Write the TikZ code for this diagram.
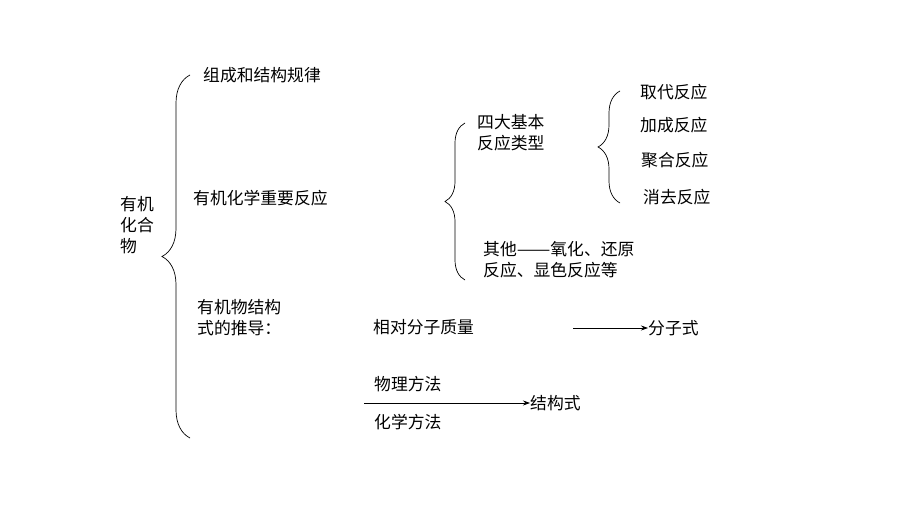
\documentclass[tikz,border=0pt]{standalone}
\usepackage{fontspec}
\usepackage{graphicx}
\newfontfamily\cjk{Noto Sans CJK SC}
\usetikzlibrary{arrows.meta,decorations.pathreplacing}

% two full-width dashes
\newcommand{\longdash}{\resizebox{2em}{\height}{——}}

\begin{document}
\begin{tikzpicture}[x=1pt,y=-1pt,
  every node/.style={font=\cjk\fontsize{16.8}{21}\selectfont, anchor=west, inner sep=0pt, align=left},
  brace/.style={decorate, decoration={brace, amplitude=#1}, line width=0.7pt},
  arrow/.style={-{Stealth[length=7pt,width=5pt]}, line width=0.7pt}]

  % Fix the page size
  \useasboundingbox (0,0) rectangle (920,518);

  % Root and the big brace
  \node (root) at (120,225) {有机\\化合\\物};
  \draw[brace=28] (190,438) -- (190,75);

  % Main branches
  \node (rule) at (203,75) {组成和结构规律};
  \node (react) at (193,198) {有机化学重要反应};
  \node (derive) at (197,318) {有机物结构\\式的推导：};

  % Reactions
  \draw[brace=20] (465,280) -- (465,123);
  \node (types) at (477,133) {四大基本\\反应类型};
  \node (other) at (483,260) {其他\longdash 氧化、还原\\反应、显色反应等};

  \draw[brace=22] (620,203) -- (620,91);
  \node (subst) at (640,92) {取代反应};
  \node (addit) at (640,125) {加成反应};
  \node (polym) at (641,160) {聚合反应};
  \node (elim) at (643,197) {消去反应};

  % Derivation of the formula
  \node (mass) at (373,327) {相对分子质量};
  \node (molf) at (648,328) {分子式};
  \coordinate (a1) at (573,328);
  \draw[arrow] (a1) -- (molf.west);

  \node (phys) at (374,384) {物理方法};
  \node (chem) at (374,422) {化学方法};
  \node (strf) at (530,403) {结构式};
  \coordinate (a2) at (364,403);
  \draw[arrow] (a2) -- (strf.west);

\end{tikzpicture}
\end{document}
